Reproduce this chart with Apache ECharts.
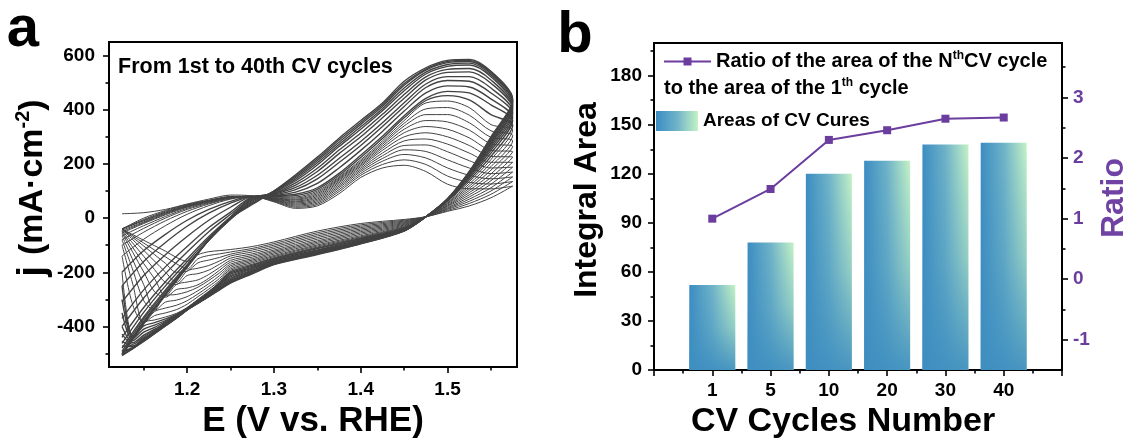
<!DOCTYPE html>
<html>
<head>
<meta charset="utf-8">
<title>CV cycles and integral area</title>
<script src="https://cdn.jsdelivr.net/npm/echarts@6/dist/echarts.min.js"></script>
<style>
  html, body { margin: 0; padding: 0; background: #ffffff; }
  #chart { width: 1131px; height: 444px; }
</style>
</head>
<body>
<div id="chart"></div>
<script>
// ---- panel a : CV curves ----
// potential grid (V vs. RHE) for the anodic sweep and the cathodic sweep back
const anodicE = [1.125, 1.15, 1.175, 1.2, 1.225, 1.25, 1.275, 1.3, 1.325, 1.35, 1.375, 1.4, 1.425, 1.45, 1.475, 1.5, 1.525, 1.55, 1.575];
const cathodicE = [1.55, 1.525, 1.5, 1.475, 1.45, 1.4, 1.35, 1.3, 1.275, 1.25, 1.2375, 1.225, 1.2125, 1.2, 1.1875, 1.175, 1.1625, 1.15, 1.1375, 1.125];

const cycleNo = [1, 2, 3, 4, 5, 6, 7, 8, 9, 10, 11, 12, 13, 14, 16, 18, 20, 23, 26, 29, 32, 34, 37, 40];

// current density j (mA cm-2), one row per cycle of cycleNo
const anodicJ = [
  [16, 20, 32, 52, 70, 85, 82, 60, 36, 45, 90, 150, 185, 195, 172, 125, 108, 108, 118],
  [-40, 0, 28, 50, 66, 80, 80, 62, 40, 50, 98, 158, 198, 215, 198, 155, 132, 126, 135],
  [-40, -5, 25, 48, 65, 79, 80, 64, 44, 55, 105, 165, 210, 235, 222, 185, 158, 145, 152],
  [-40, -8, 22, 46, 64, 78, 80, 66, 48, 60, 112, 172, 220, 252, 246, 215, 185, 164, 170],
  [-40, -10, 20, 45, 63, 78, 80, 67, 52, 65, 118, 178, 230, 268, 270, 245, 212, 185, 188],
  [-45, -14, 18, 43, 62, 77, 80, 68, 56, 70, 124, 184, 240, 285, 292, 273, 240, 206, 206],
  [-50, -17, 15, 42, 61, 77, 80, 70, 60, 75, 130, 190, 250, 300, 315, 300, 268, 228, 225],
  [-55, -20, 12, 40, 60, 76, 80, 71, 63, 80, 135, 195, 258, 315, 338, 328, 296, 250, 245],
  [-65, -28, 6, 36, 58, 75, 80, 72, 67, 85, 140, 200, 265, 328, 360, 355, 325, 274, 265],
  [-80, -38, 0, 32, 55, 74, 80, 74, 70, 90, 144, 205, 272, 340, 382, 382, 352, 298, 285],
  [-100, -52, -10, 25, 52, 72, 80, 75, 74, 95, 148, 210, 278, 350, 403, 408, 380, 322, 305],
  [-140, -78, -28, 14, 46, 70, 80, 77, 78, 100, 152, 215, 285, 360, 425, 432, 408, 345, 325],
  [-200, -120, -60, -8, 32, 62, 80, 80, 83, 106, 158, 224, 294, 370, 434, 452, 436, 382, 342],
  [-250, -160, -90, -30, 18, 55, 80, 82, 88, 112, 165, 232, 302, 378, 442, 468, 462, 418, 360],
  [-310, -212, -135, -68, -8, 40, 80, 84, 96, 128, 185, 250, 320, 395, 462, 488, 484, 440, 372],
  [-370, -265, -180, -105, -35, 22, 78, 86, 105, 145, 205, 268, 338, 412, 482, 508, 505, 462, 385],
  [-400, -295, -205, -125, -50, 14, 76, 88, 113, 158, 220, 283, 352, 426, 495, 522, 522, 480, 395],
  [-440, -330, -235, -150, -68, 5, 74, 90, 122, 172, 238, 300, 370, 442, 510, 538, 540, 498, 405],
  [-462, -348, -250, -161, -74, 2, 70, 92, 130, 184, 251, 314, 383, 456, 521, 549, 552, 510, 412],
  [-480, -365, -265, -172, -80, -2, 66, 95, 138, 196, 264, 328, 396, 470, 532, 560, 565, 522, 420],
  [-492, -372, -271, -176, -81, -3, 62, 98, 144, 204, 272, 337, 404, 480, 539, 567, 572, 528, 426],
  [-500, -380, -278, -180, -82, -4, 58, 100, 150, 212, 280, 346, 412, 490, 546, 574, 578, 534, 432],
  [-503, -385, -281, -181, -81, -2, 54, 100, 155, 218, 288, 353, 418, 497, 550, 578, 582, 538, 436],
  [-506, -390, -285, -182, -80, 0, 50, 100, 160, 225, 295, 360, 425, 505, 555, 582, 586, 542, 440]
];
const cathodicJ = [
  [75, 45, 25, 5, -5, -20, -48, -88, -105, -116, -120, -124, -135, -160, -145, -122, -102, -82, -61, -40],
  [88, 54, 28, 5, -8, -25, -54, -94, -112, -125, -132, -138, -150, -188, -168, -143, -118, -92, -66, -40],
  [100, 62, 32, 5, -11, -30, -60, -100, -118, -133, -145, -155, -165, -196, -200, -167, -135, -103, -72, -40],
  [112, 70, 35, 5, -14, -35, -66, -106, -125, -140, -158, -175, -185, -195, -238, -199, -159, -119, -80, -40],
  [125, 78, 38, 5, -17, -40, -72, -112, -132, -148, -170, -192, -205, -212, -245, -238, -190, -141, -93, -45],
  [138, 86, 42, 5, -20, -45, -78, -118, -138, -156, -182, -208, -228, -236, -245, -288, -224, -168, -109, -50],
  [150, 94, 45, 5, -23, -50, -84, -123, -144, -163, -192, -222, -246, -258, -264, -292, -272, -199, -127, -55],
  [163, 102, 48, 5, -26, -55, -89, -128, -150, -170, -202, -230, -255, -272, -282, -287, -338, -246, -155, -65],
  [177, 110, 52, 5, -29, -60, -94, -133, -155, -176, -212, -242, -268, -290, -303, -310, -340, -305, -192, -80],
  [190, 118, 55, 5, -32, -65, -99, -138, -160, -182, -222, -252, -280, -305, -322, -332, -345, -388, -245, -100],
  [203, 126, 58, 5, -34, -69, -103, -142, -165, -188, -230, -262, -290, -318, -338, -350, -360, -385, -322, -140],
  [216, 134, 62, 5, -36, -72, -107, -146, -170, -193, -238, -270, -300, -330, -352, -365, -376, -385, -438, -200],
  [228, 141, 64, 5, -38, -75, -110, -149, -174, -198, -238, -273, -303, -332, -355, -372, -386, -398, -442, -250],
  [240, 148, 66, 5, -39, -77, -113, -152, -178, -202, -238, -276, -306, -334, -358, -378, -395, -410, -445, -300],
  [250, 153, 67, 5, -41, -80, -117, -155, -182, -207, -242, -278, -307, -335, -360, -382, -403, -421, -453, -350],
  [258, 157, 68, 5, -42, -83, -120, -158, -185, -212, -245, -280, -308, -335, -362, -386, -410, -432, -460, -400],
  [265, 160, 69, 5, -43, -85, -122, -160, -188, -217, -248, -282, -310, -336, -364, -389, -414, -438, -466, -428],
  [272, 163, 70, 5, -44, -87, -125, -163, -192, -222, -252, -284, -311, -337, -366, -392, -418, -443, -472, -455],
  [277, 165, 70, 5, -45, -88, -127, -165, -195, -226, -255, -285, -312, -337, -367, -393, -420, -446, -475, -472],
  [282, 167, 70, 5, -46, -90, -129, -167, -198, -230, -258, -287, -313, -338, -368, -395, -423, -450, -478, -490],
  [287, 168, 70, 5, -46, -91, -130, -168, -200, -232, -260, -288, -313, -338, -368, -396, -424, -451, -479, -496],
  [292, 170, 71, 5, -47, -93, -132, -170, -202, -235, -262, -289, -314, -339, -369, -397, -425, -453, -481, -502],
  [296, 171, 71, 5, -47, -94, -133, -171, -204, -237, -263, -289, -314, -339, -369, -397, -426, -454, -481, -505],
  [300, 172, 72, 5, -48, -95, -135, -172, -206, -240, -265, -290, -315, -340, -370, -398, -427, -455, -482, -508]
];

// axis ticks of panel a
const eTicks = [1.2, 1.3, 1.4, 1.5];
const eMinorTicks = [1.15, 1.25, 1.35, 1.45, 1.55];
const jTicks = [-400, -200, 0, 200, 400, 600];
const jMinorTicks = [-500, -300, -100, 100, 300, 500];

// ---- panel b ----
const cycleLabels = ['1', '5', '10', '20', '30', '40'];
const areaValues = [52, 78, 120, 128, 138, 139];
const ratioValues = [1.0, 1.49, 2.3, 2.46, 2.65, 2.67];
const areaTicks = [0, 30, 60, 90, 120, 150, 180];
const areaMinorTicks = [15, 45, 75, 105, 135, 165, 195];
const ratioTicks = [-1, 0, 1, 2, 3];
const ratioMinorTicks = [-0.5, 0.5, 1.5, 2.5, 3.5];

const font = '"Liberation Sans", Arial, Helvetica, sans-serif';
const purple = '#6a3d9e';
const lineGrey = '#424242';

function ticks(values, len) {
  return { show: true, inside: false, length: len, customValues: values,
    lineStyle: { color: '#000', width: 1.6 } };
}
function labels(values, margin, color) {
  return { show: true, customValues: values, margin: margin, color: color || '#000',
    fontSize: 19, fontWeight: 'bold', fontFamily: font };
}
function axis(extra) {
  return Object.assign({
    type: 'value',
    axisLine: { show: false, onZero: false },
    splitLine: { show: false },
    axisLabel: { show: false }
  }, extra);
}

const cvSeries = cycleNo.map((n, i) => ({
  name: 'cycle ' + n,
  type: 'line',
  xAxisIndex: 0,
  yAxisIndex: 0,
  data: anodicE.map((e, k) => [e, anodicJ[i][k]])
    .concat(cathodicE.map((e, k) => [e, cathodicJ[i][k]])),
  smooth: 0.3,
  symbol: 'none',
  silent: true,
  // later cycles sit close together, drawn a bit heavier like the dense bands
  lineStyle: { color: lineGrey, width: n > 12 ? 1.35 : 1 }
}));

const ratioName = 'Ratio of the area of the Nth CV cycle to the area of the 1th cycle';
const areaName = 'Areas of CV Cures';

let myChart = echarts.init(document.getElementById('chart'), null, { renderer: 'canvas' });
myChart.setOption({
  animation: false,
  textStyle: { fontFamily: font },
  grid: [
    { left: 109, top: 42, width: 408, height: 327, show: true, borderColor: '#000', borderWidth: 2 },
    { left: 654, top: 43, width: 408, height: 328, show: true, borderColor: '#000', borderWidth: 2 }
  ],
  xAxis: [
    axis({ gridIndex: 0, position: 'bottom', min: 1.11, max: 1.58,
      axisTick: ticks(eTicks, 6), axisLabel: labels(eTicks, 13),
      name: 'E (V vs. RHE)', nameLocation: 'middle', nameGap: 33,
      nameTextStyle: { fontSize: 35, fontWeight: 'bold', color: '#000', fontFamily: font } }),
    axis({ gridIndex: 0, position: 'bottom', min: 1.11, max: 1.58, axisTick: ticks(eMinorTicks, 3.5) }),
    axis({ gridIndex: 1, position: 'bottom', min: 0, max: 7,
      axisTick: ticks([0, 1, 2, 3, 4, 5, 6, 7], 6),
      axisLabel: Object.assign(labels([1, 2, 3, 4, 5, 6], 11), {
        formatter: v => cycleLabels[Math.round(v) - 1]
      }),
      name: 'CV Cycles Number', nameLocation: 'middle', nameGap: 31,
      nameTextStyle: { fontSize: 34, fontWeight: 'bold', color: '#000', fontFamily: font,
        padding: [0, 30, 0, 0] } }),
    axis({ gridIndex: 1, position: 'bottom', min: 0, max: 7,
      axisTick: ticks([0.5, 1.5, 2.5, 3.5, 4.5, 5.5, 6.5], 3.5) })
  ],
  yAxis: [
    axis({ gridIndex: 0, position: 'left', min: -550, max: 650,
      axisTick: ticks(jTicks, 6), axisLabel: labels(jTicks, 14) }),
    axis({ gridIndex: 0, position: 'left', min: -550, max: 650, axisTick: ticks(jMinorTicks, 3.5) }),
    axis({ gridIndex: 1, position: 'left', min: 0, max: 200,
      axisTick: ticks(areaTicks, 6), axisLabel: labels(areaTicks, 12) }),
    axis({ gridIndex: 1, position: 'left', min: 0, max: 200, axisTick: ticks(areaMinorTicks, 3.5) }),
    axis({ gridIndex: 1, position: 'right', min: -1.5, max: 3.9,
      axisTick: ticks(ratioTicks, 6), axisLabel: labels(ratioTicks, 11, purple) }),
    axis({ gridIndex: 1, position: 'right', min: -1.5, max: 3.9, axisTick: ticks(ratioMinorTicks, 3.5) })
  ],
  legend: [
    {
      data: [ratioName],
      left: 658, top: 45,
      itemWidth: 47, itemHeight: 10, itemGap: 5,
      selectedMode: false,
      formatter: () => '{t|Ratio of the area of the N}{s|th}{t|CV cycle}',
      textStyle: {
        rich: {
          t: { fontSize: 20, fontWeight: 'bold', fontFamily: font, color: '#000', lineHeight: 23 },
          s: { fontSize: 12, fontWeight: 'bold', fontFamily: font, color: '#000', lineHeight: 12, verticalAlign: 'top' }
        }
      }
    },
    {
      data: [{ name: areaName, icon: 'rect' }],
      left: 651, top: 106,
      itemWidth: 42, itemHeight: 20,
      selectedMode: false,
      textStyle: { fontSize: 19, fontWeight: 'bold', fontFamily: font, color: '#000' }
    }
  ],
  graphic: [
    { type: 'text', x: 23, y: 30, style: { text: 'a', font: 'bold 58px ' + font, fill: '#000', align: 'center', verticalAlign: 'middle' } },
    { type: 'text', x: 575, y: 36, style: { text: 'b', font: 'bold 58px ' + font, fill: '#000', align: 'center', verticalAlign: 'middle' } },
    { type: 'text', x: 118, y: 67, style: { text: 'From 1st to 40th CV cycles', font: 'bold 21.5px ' + font, fill: '#000', align: 'left', verticalAlign: 'middle' } },
    {
      type: 'text', x: 33, y: 188, rotation: Math.PI / 2,
      style: {
        text: '{j|j }{u|(mA·cm}{s|-2}{u|)}',
        align: 'center', verticalAlign: 'middle',
        rich: {
          j: { fontSize: 39, fontWeight: 'bold', fontFamily: font, fill: '#000', lineHeight: 40 },
          u: { fontSize: 34, fontWeight: 'bold', fontFamily: font, fill: '#000', lineHeight: 40 },
          s: { fontSize: 20, fontWeight: 'bold', fontFamily: font, fill: '#000', lineHeight: 22, verticalAlign: 'top' }
        }
      }
    },
    { type: 'text', x: 587, y: 200, rotation: Math.PI / 2,
      style: { text: 'Integral Area', font: 'bold 32px ' + font, fill: '#000', align: 'center', verticalAlign: 'middle' } },
    { type: 'text', x: 1114, y: 198, rotation: Math.PI / 2,
      style: { text: 'Ratio', font: 'bold 32px ' + font, fill: '#6f42a3', align: 'center', verticalAlign: 'middle' } },
    {
      type: 'text', x: 664, y: 88,
      style: {
        text: '{t|to the area of the 1}{s|th}{t| cycle}',
        align: 'left', verticalAlign: 'middle',
        rich: {
          t: { fontSize: 20, fontWeight: 'bold', fontFamily: font, fill: '#000', lineHeight: 23 },
          s: { fontSize: 12, fontWeight: 'bold', fontFamily: font, fill: '#000', lineHeight: 12, verticalAlign: 'top' }
        }
      }
    }
  ],
  series: cvSeries.concat([
    {
      name: areaName,
      type: 'bar',
      xAxisIndex: 2,
      yAxisIndex: 2,
      barWidth: 46,
      data: areaValues.map((v, i) => [i + 1, v]),
      itemStyle: {
        color: new echarts.graphic.LinearGradient(0, 0, 1, 0, [
          { offset: 0, color: '#3b8cc2' },
          { offset: 0.5, color: '#6fb3c8' },
          { offset: 1, color: '#c4f2c6' }
        ])
      }
    },
    {
      // bluish shading towards the bottom of every bar
      name: 'area shade',
      type: 'bar',
      xAxisIndex: 2,
      yAxisIndex: 2,
      barWidth: 46,
      barGap: '-100%',
      silent: true,
      data: areaValues.map((v, i) => [i + 1, v]),
      itemStyle: {
        color: new echarts.graphic.LinearGradient(0, 1, 0, 0, [
          { offset: 0, color: 'rgba(62,142,192,0.92)' },
          { offset: 0.5, color: 'rgba(62,142,192,0.35)' },
          { offset: 1, color: 'rgba(62,142,192,0)' }
        ])
      }
    },
    {
      name: ratioName,
      type: 'line',
      xAxisIndex: 2,
      yAxisIndex: 4,
      data: ratioValues.map((v, i) => [i + 1, v]),
      symbol: 'rect',
      symbolSize: 8,
      itemStyle: { color: purple },
      lineStyle: { color: purple, width: 2 }
    }
  ])
});
</script>
</body>
</html>
